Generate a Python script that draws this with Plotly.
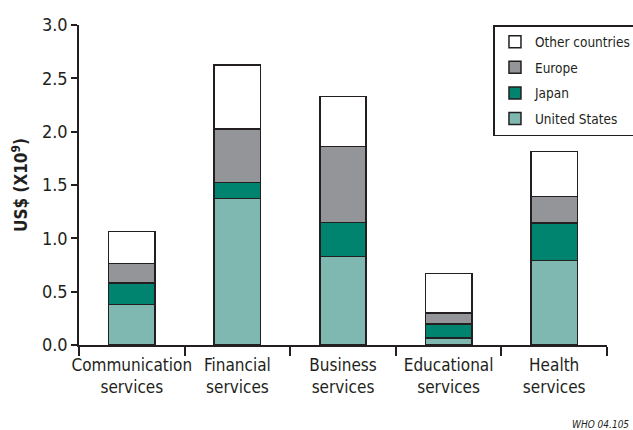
import plotly.graph_objects as go

categories = ["Communication<br>services", "Financial<br>services", "Business<br>services",
              "Educational<br>services", "Health<br>services"]
united_states = [0.38, 1.375, 0.83, 0.065, 0.79]
japan = [0.20, 0.147, 0.317, 0.132, 0.354]
europe = [0.186, 0.503, 0.712, 0.103, 0.25]
other = [0.296, 0.60, 0.469, 0.372, 0.418]

series = [
    ("United States", united_states, "#7fb8b0", 4),
    ("Japan", japan, "#00836f", 3),
    ("Europe", europe, "#939598", 2),
    ("Other countries", other, "#ffffff", 1),
]

FONT = "DejaVu Sans Condensed, Open Sans, sans-serif"

fig = go.Figure()
for name, vals, col, rank in series:
    fig.add_trace(go.Bar(
        x=categories, y=vals, name=name, width=0.44, legendgroup=name, legendrank=rank,
        marker=dict(color=col, line=dict(color="#231f20", width=1.5)),
    ))

fig.update_layout(
    barmode="stack",
    width=633, height=430,
    margin=dict(l=79, r=26, t=25, b=85, autoexpand=False),
    paper_bgcolor="white", plot_bgcolor="white",
    font=dict(family=FONT, color="#231f20", size=17),
    showlegend=True,
    legend=dict(
        traceorder="grouped", tracegroupgap=5,
        x=0.785, xanchor="left", y=1.0, yanchor="top",
        bordercolor="#231f20", borderwidth=1.5,
        font=dict(size=13.5, family=FONT, color="#231f20"),
        bgcolor="white",
    ),
    xaxis=dict(
        type="category", range=[-0.5, 4.5], automargin=False, tickangle=0,
        showline=True, linecolor="#231f20", linewidth=1.5,
        ticks="outside", tickson="boundaries", ticklen=9, tickwidth=1.5, tickcolor="#231f20",
        tickfont=dict(size=17, family=FONT), ticklabelstandoff=4,
        showgrid=False,
    ),
    yaxis=dict(
        range=[0, 3.0], tickvals=[0, 0.5, 1.0, 1.5, 2.0, 2.5, 3.0], tickformat=".1f",
        automargin=False,
        showline=True, linecolor="#231f20", linewidth=1.5,
        ticks="outside", ticklen=6, tickwidth=1.5, tickcolor="#231f20",
        tickfont=dict(size=18, family=FONT),
        showgrid=False, zeroline=False,
        title=dict(text="<b>US$ (X10<sup>9</sup>)</b>", font=dict(size=17, family=FONT), standoff=10),
    ),
)

fig.add_annotation(
    text="<i>WHO 04.105</i>", xref="paper", yref="paper", x=1.045, y=-0.225,
    xanchor="right", yanchor="top", showarrow=False,
    font=dict(size=10, family=FONT, color="#231f20"),
)

fig.write_html("out.html")
